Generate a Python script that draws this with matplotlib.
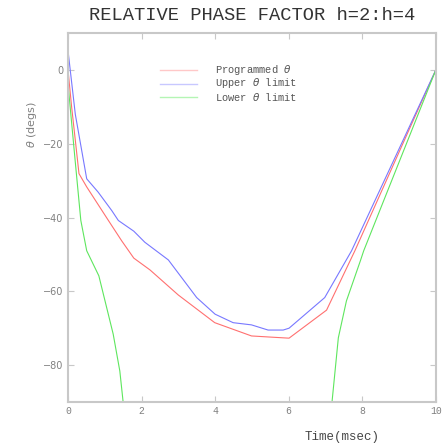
import numpy as np
import matplotlib
matplotlib.use("Agg")
from matplotlib import pyplot as plt

# phase curves, time in msec, angle in degrees
prog_t = [0.0, 0.10, 0.30, 0.51, 1.10, 1.46, 1.79, 2.23, 3.00, 3.99, 4.99, 5.49, 6.01, 7.03, 7.80, 10.0]
prog_y = [0.2, -10.0, -28.1, -31.7, -40.8, -46.3, -51.0, -54.2, -61.0, -68.5, -72.1, -72.4, -72.7, -65.1, -49.0, 0.0]

upper_t = [0.0, 0.20, 0.51, 0.82, 1.19, 1.37, 1.79, 2.09, 2.73, 3.50, 4.00, 4.49, 4.99, 5.44, 5.85, 6.01, 6.98, 7.71, 10.0]
upper_y = [5.4, -12.0, -29.5, -33.1, -38.1, -40.8, -43.7, -46.7, -51.5, -61.7, -66.2, -68.5, -69.1, -70.5, -70.5, -70.0, -61.7, -49.0, 0.0]

lower_t = [0.0, 0.20, 0.35, 0.51, 0.84, 1.23, 1.41, 1.50]
lower_y = [-3.6, -25.0, -40.8, -49.0, -55.8, -71.6, -81.6, -90.0]
lower_t2 = [7.18, 7.35, 7.57, 7.95, 8.04, 10.0]
lower_y2 = [-89.8, -72.6, -62.6, -51.7, -49.0, 0.0]

mono = "Liberation Mono"
grey = "#808080"
edge = "#c8c8c8"

fig = plt.figure(figsize=(4.47, 4.47), dpi=100)
ax = fig.add_axes([0.152, 0.1007, 0.823, 0.8253])

ax.plot(prog_t, prog_y, color="#ff7070", lw=0.8)
ax.plot(upper_t, upper_y, color="#7878ff", lw=0.8)
ax.plot(lower_t, lower_y, color="#5ee65e", lw=0.8)
ax.plot(lower_t2, lower_y2, color="#5ee65e", lw=0.8)

ax.set_xlim(0, 10)
ax.set_ylim(-90, 10)
ax.set_xticks([0, 2, 4, 6, 8, 10])
ax.set_yticks([0, -20, -40, -60, -80])
ax.tick_params(direction="in", length=4, color=edge, labelcolor=grey, labelsize=7,
               top=True, right=True, pad=3)
for lab in ax.get_xticklabels():
    lab.set_fontfamily(mono)
for s in ax.spines.values():
    s.set_color(edge)
    s.set_linewidth(1.5)

# legend drawn by hand as short segments with text
leg = [("Programmed $\\theta$", "#ffc8c8"), ("Upper $\\theta$ limit", "#c8c8ff"),
       ("Lower $\\theta$ limit", "#b4f5b4")]
for i, (txt, c) in enumerate(leg):
    yy = 377 - 13.5 * i
    fig.add_artist(plt.Line2D([160 / 447, 197 / 447], [yy / 447, yy / 447], color=c, lw=1.0))
    fig.text(215 / 447, yy / 447, txt, family=mono, fontsize=7.5, color="#555555", va="center")

fig.text(252 / 447, 1 - 16 / 447, "RELATIVE PHASE FACTOR h=2:h=4", family=mono, fontsize=13.5,
         color="#333333", ha="center", va="center")
fig.text(342 / 447, 1 - 437 / 447, "Time(msec)", family=mono, fontsize=9, color="#444444",
         ha="center", va="center")
fig.text(32 / 447, 1 - 125 / 447, "$\\theta$ (degs)", fontsize=8, color=grey,
         rotation=90, ha="center", va="center")

fig.savefig("out.png", dpi=100)
